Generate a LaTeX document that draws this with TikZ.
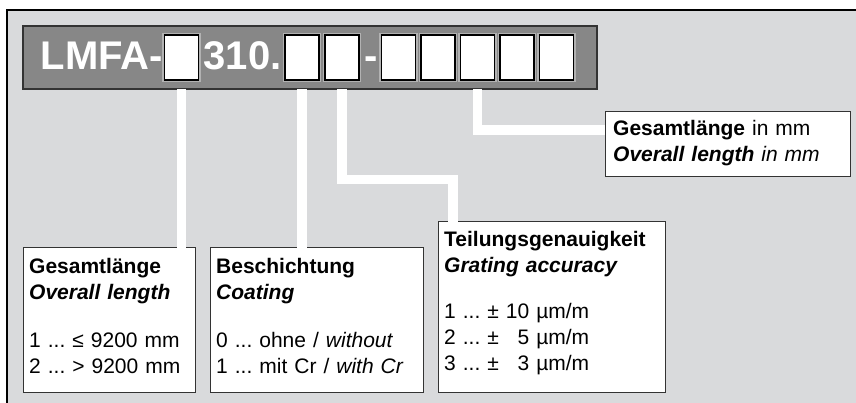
\documentclass[tikz,border=0pt]{standalone}
\usepackage{fontspec}
\setmainfont{Liberation Sans}
\usetikzlibrary{calc}

\definecolor{panel}{HTML}{D9DADC}
\definecolor{barfill}{HTML}{878787}
\definecolor{edge}{HTML}{333333}

\tikzset{
  codetext/.style={text=white, font=\bfseries\fontsize{40}{40}\selectfont, inner sep=0pt, anchor=base west},
  slot/.style={draw=black, line width=1.4pt, fill=white, minimum width=34pt, minimum height=45pt,
               inner sep=0pt, outer sep=0pt, preaction={draw=black!30, line width=4.2pt}},
  infobox/.style={draw=edge, line width=1pt, fill=white, inner sep=0pt, outer sep=0pt, anchor=north west},
  infotext/.style={font=\fontsize{21}{26}\selectfont\frenchspacing, align=left, text width=235pt,
                   inner sep=0pt, anchor=north west},
  leader/.style={draw=white, line width=9.5pt, line join=miter, line cap=butt}
}

\begin{document}
\begin{tikzpicture}[x=1pt, y=-1pt]
  \useasboundingbox (0,0) rectangle (856,403);

  % grey panel
  \draw[fill=panel, draw=black, line width=1.5pt] (7,10) rectangle (880,430);

  % code bar
  \node[draw=edge, line width=1.5pt, fill=barfill, inner sep=0pt, outer sep=0pt,
        minimum width=574pt, minimum height=63pt, anchor=north west] (bar) at (23,26) {};

  % digit slots
  \node[slot] (s1) at (181.5,57.5) {};
  \node[slot] (s2) at (302,57.5) {};
  \node[slot] (s3) at (342,57.5) {};
  \node[slot] (s4) at (398.5,57.5) {};
  \node[slot] (s5) at (438,57.5) {};
  \node[slot] (s6) at (477.5,57.5) {};
  \node[slot] (s7) at (517,57.5) {};
  \node[slot] (s8) at (556.5,57.5) {};

  % fixed code text
  \node[codetext] (t1) at (40.5,70) {LMFA-};
  \node[codetext] (t2) at (203.5,70) {310.};
  \node[codetext] (t3) at (364,70) {-};

  % description boxes
  \node[infobox, minimum width=172pt, minimum height=144pt] (gA) at (23,248) {};
  \node[infobox, minimum width=213pt, minimum height=144pt] (gB) at (210,248) {};
  \node[infobox, minimum width=227pt, minimum height=170pt] (gC) at (438,222) {};
  \node[infobox, minimum width=245pt, minimum height=65pt] (gD) at (605,112) {};

  % leader lines from the slots to their boxes
  \coordinate (k3) at (453,179.5);
  \coordinate (k6) at (605,130);
  \path[leader] (s1.center |- bar.south) -- (s1 |- gA.north);
  \path[leader] (s2.center |- bar.south) -- (s2 |- gB.north);
  \path[leader] (s3.center |- bar.south) |- (k3) -- (k3 |- gC.north);
  \path[leader] (s6.center |- bar.south) |- (k6);

  % box texts
  \node[infotext] (xA) at ($(gA.north west)+(6,10)$)
    {\textbf{Gesamtlänge}\\ \textbf{\textit{Overall length}}\\[22pt]
     1 ... ≤ 9200 mm\\ 2 ... > 9200 mm};
  \node[infotext] (xB) at ($(gB.north west)+(6,10)$)
    {\textbf{Beschichtung}\\ \textbf{\textit{Coating}}\\[22pt]
     0 ... ohne / \textit{without}\\ 1 ... mit Cr / \textit{with Cr}};
  \node[infotext] (xC) at ($(gC.north west)+(6,9)$)
    {\textbf{Teilungsgenauigkeit}\\ \textbf{\textit{Grating accuracy}}\\[20pt]
     1 ... ± 10 µm/m\\ 2 ... ± \phantom{1}5 µm/m\\ 3 ... ± \phantom{1}3 µm/m};
  \node[infotext] (xD) at ($(gD.north west)+(8,8)$)
    {\textbf{Gesamtlänge} in mm\\ \textbf{\textit{Overall length}} \textit{in mm}};
\end{tikzpicture}
\end{document}
